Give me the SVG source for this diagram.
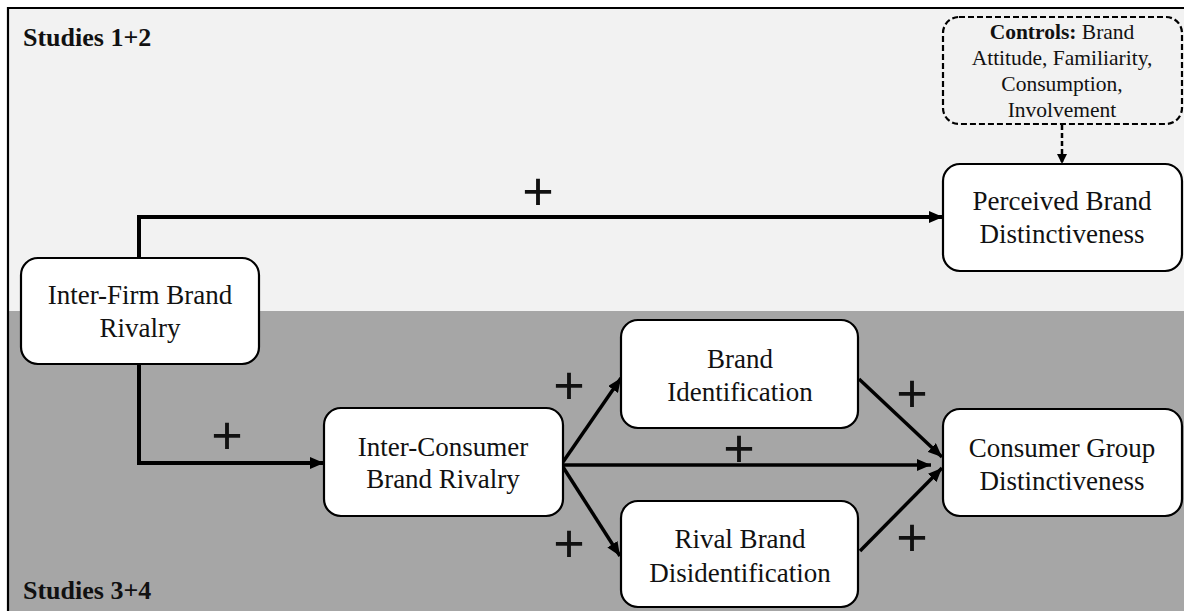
<svg xmlns="http://www.w3.org/2000/svg" width="1184" height="611" viewBox="0 0 1184 611">
<style>
.node{fill:#ffffff;stroke:#000;stroke-width:2.2}
.ctrl{fill:#f2f2f2;stroke:#000;stroke-width:2.2;stroke-dasharray:6 3}
.e{fill:none;stroke:#000;stroke-width:4}
.d{fill:none;stroke:#000;stroke-width:3.5}
</style>
<defs>
<marker id="ah" markerUnits="userSpaceOnUse" markerWidth="14" markerHeight="12" refX="14" refY="6" orient="auto">
<path d="M0,0 L14,6 L0,12 z" fill="#000"/>
</marker>
<marker id="ahs" markerUnits="userSpaceOnUse" markerWidth="10" markerHeight="10" refX="10" refY="5" orient="auto">
<path d="M0,0 L10,5 L0,10 z" fill="#000"/>
</marker>
</defs>
<rect x="0" y="0" width="1184" height="611" fill="#ffffff"/>
<rect x="8" y="8" width="1176" height="303" fill="#f2f2f2"/>
<rect x="8" y="311" width="1176" height="300" fill="#a6a6a6"/>
<path d="M8,611 V8 H1184" fill="none" stroke="#000" stroke-width="2.2"/>
<g font-family="Liberation Serif, serif" font-size="26" font-weight="bold" fill="#111">
<text x="23" y="46">Studies 1+2</text>
<text x="23" y="599">Studies 3+4</text>
</g>

<g id="connectors">
<path class="e" d="M139,258 V217 H943" marker-end="url(#ah)"/>
<path class="e" d="M139,364 V463 H324" marker-end="url(#ah)"/>
<path class="d" d="M563,462 L621,378" marker-end="url(#ah)"/>
<path class="d" d="M563,465 H931" marker-end="url(#ah)"/>
<path class="d" d="M563,467 L620,556" marker-end="url(#ah)"/>
<path class="d" d="M859,379 L942,457" marker-end="url(#ah)"/>
<path class="d" d="M860,551 L942,468" marker-end="url(#ah)"/>
<path d="M1062,125 V164" fill="none" stroke="#000" stroke-width="2.5" stroke-dasharray="5 3" marker-end="url(#ahs)"/>
<g font-family="Liberation Sans, sans-serif" font-size="54" fill="#111" text-anchor="middle">
<text x="538" y="210">+</text>
<text x="227" y="454">+</text>
<text x="569" y="404">+</text>
<text x="569" y="562">+</text>
<text x="739" y="467">+</text>
<text x="912" y="412">+</text>
<text x="912" y="556">+</text>
</g>
</g>

<g id="controls" font-family="Liberation Serif, serif" font-size="21.5" fill="#111" text-anchor="middle">
<rect class="ctrl" x="943" y="17" width="239" height="107" rx="16"/>
<text x="1062" y="39"><tspan font-weight="bold">Controls:</tspan> Brand</text>
<text x="1062" y="65">Attitude, Familiarity,</text>
<text x="1062" y="91">Consumption,</text>
<text x="1062" y="117">Involvement</text>
</g>

<g font-family="Liberation Serif, serif" font-size="27" fill="#111" text-anchor="middle">
<g id="perceived">
<rect class="node" x="943" y="164" width="239" height="107" rx="17"/>
<text x="1062" y="210">Perceived Brand</text>
<text x="1062" y="243">Distinctiveness</text>
</g>

<g id="interfirm">
<rect class="node" x="21" y="258" width="238" height="106" rx="17"/>
<text x="140" y="304">Inter-Firm Brand</text>
<text x="140" y="337">Rivalry</text>
</g>

<g id="interconsumer">
<rect class="node" x="324" y="408" width="239" height="108" rx="17"/>
<text x="443" y="456">Inter-Consumer</text>
<text x="443" y="488">Brand Rivalry</text>
</g>

<g id="brandid">
<rect class="node" x="621" y="320" width="237" height="108" rx="17"/>
<text x="740" y="368">Brand</text>
<text x="740" y="401">Identification</text>
</g>

<g id="rivaldisid">
<rect class="node" x="621" y="501" width="237" height="106" rx="17"/>
<text x="740" y="548">Rival Brand</text>
<text x="740" y="582">Disidentification</text>
</g>

<g id="consumergroup">
<rect class="node" x="943" y="409" width="239" height="107" rx="17"/>
<text x="1062" y="457">Consumer Group</text>
<text x="1062" y="490">Distinctiveness</text>
</g>
</g>
</svg>
